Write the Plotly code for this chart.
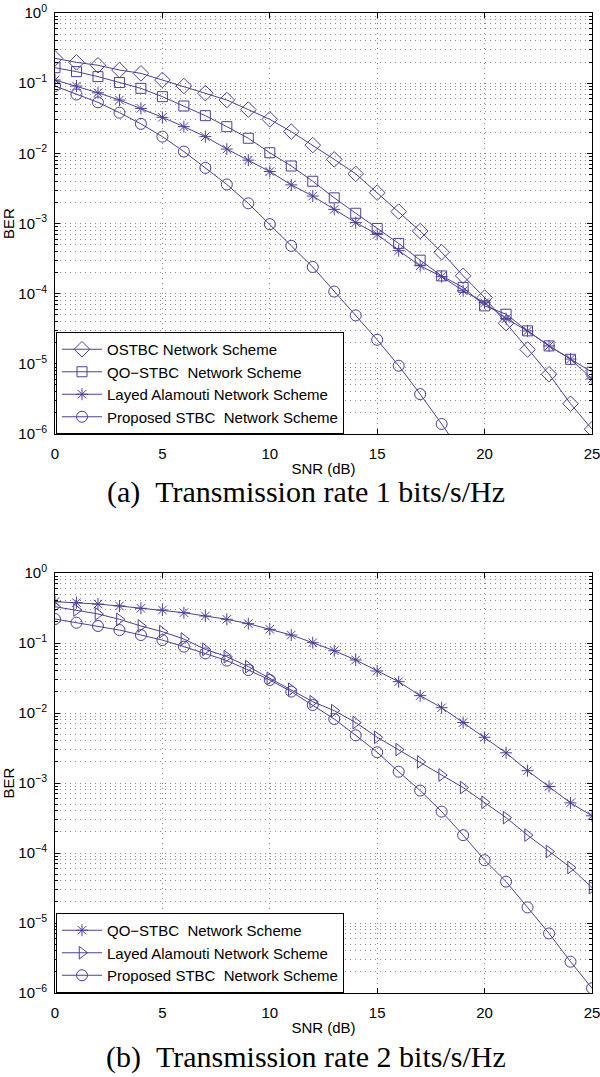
import plotly.graph_objects as go

# SNR axis (dB)
snr = list(range(26))

# (a) rate 1 bits/s/Hz
ostbc_r1 = [0.226, 0.198, 0.18, 0.154, 0.138, 0.111, 0.091, 0.072, 0.0575, 0.042,
            0.0305, 0.0204, 0.0131, 0.0082, 0.0051, 0.00275, 0.00148, 0.00078,
            0.00039, 0.00018, 8.8e-5, 3.8e-5, 1.6e-5, 7.1e-6, 2.7e-6, 1.17e-6]
qostbc_r1 = [0.166, 0.146, 0.124, 0.102, 0.0844, 0.0642, 0.0473, 0.0344, 0.024,
             0.0164, 0.0102, 0.0066, 0.0040, 0.00232, 0.0014, 0.00085, 0.00052,
             0.0003, 0.000179, 0.000123, 6.7e-5, 5.1e-5, 2.95e-5, 1.8e-5,
             1.16e-5, 7.6e-6]
layed_r1 = [0.111, 0.091, 0.073, 0.0575, 0.0437, 0.0326, 0.024, 0.0173, 0.0115,
            0.008, 0.0055, 0.00355, 0.00246, 0.00159, 0.00103, 0.0007, 0.00041,
            0.00025, 0.000175, 0.00011, 7.4e-5, 4.4e-5, 2.94e-5, 1.8e-5,
            1.17e-5, 6.1e-6]
proposed_r1 = [0.091, 0.069, 0.0533, 0.038, 0.0263, 0.0173, 0.0106, 0.0062,
               0.0036, 0.00194, 0.00098, 0.00048, 0.00024, 0.000107, 4.9e-5,
               2.2e-5, 9.4e-6, 3.7e-6, 1.39e-6, 5e-7]

# (b) rate 2 bits/s/Hz
qostbc_r2 = [0.39, 0.377, 0.36, 0.338, 0.313, 0.296, 0.271, 0.243, 0.218, 0.189,
             0.157, 0.13, 0.101, 0.0776, 0.0572, 0.0398, 0.028, 0.0177, 0.0119,
             0.0073, 0.0045, 0.0027, 0.0015, 0.00089, 0.00052, 0.00034]
layed_r2 = [0.33, 0.296, 0.26, 0.218, 0.175, 0.145, 0.114, 0.081, 0.0638, 0.046,
            0.0313, 0.0218, 0.0145, 0.0108, 0.0073, 0.0045, 0.003, 0.002, 0.0013,
            0.00086, 0.00053, 0.00032, 0.00018, 0.000105, 6.2e-5, 3.2e-5]
proposed_r2 = [0.22, 0.195, 0.175, 0.153, 0.13, 0.11, 0.0887, 0.071, 0.056,
               0.0411, 0.0296, 0.0202, 0.013, 0.0082, 0.0048, 0.00275, 0.00145,
               0.00078, 0.00039, 0.00018, 7.9e-5, 3.9e-5, 1.67e-5, 7.1e-6,
               2.8e-6, 1.17e-6]

x_ticks = [0, 5, 10, 15, 20, 25]
y_ticks = [1e-6, 1e-5, 1e-4, 1e-3, 1e-2, 1e-1, 1]
y_ticktext = ["10<sup>−6</sup>", "10<sup>−5</sup>", "10<sup>−4</sup>",
              "10<sup>−3</sup>", "10<sup>−2</sup>", "10<sup>−1</sup>",
              "10<sup>0</sup>"]
y_minor = [k * 10.0 ** e for e in range(-6, 0) for k in range(2, 10)]

COLOR = "#4b3f9e"
GRID = "#8c8c8c"
GRID_DASH = "1px,4px"
SANS = "Liberation Sans, Arial, sans-serif"
SERIF = "Liberation Serif, Times New Roman, serif"

fig = go.Figure()


def add_curve(x, y, name, symbol, size, xref, yref, legend):
    fig.add_trace(
        go.Scatter(
            x=x,
            y=y,
            name=name,
            mode="lines+markers",
            line=dict(color=COLOR, width=1),
            marker=dict(symbol=symbol, size=size, color=COLOR,
                        line=dict(color=COLOR, width=1)),
            xaxis=xref,
            yaxis=yref,
            legend=legend,
        )
    )


add_curve(snr, ostbc_r1, "OSTBC Network Scheme", "diamond-open", 12, "x", "y", "legend")
add_curve(snr, qostbc_r1, "QO−STBC  Network Scheme", "square-open", 10, "x", "y", "legend")
add_curve(snr, layed_r1, "Layed Alamouti Network Scheme", "asterisk-open", 10, "x", "y", "legend")
add_curve(snr[:len(proposed_r1)], proposed_r1, "Proposed STBC  Network Scheme",
          "circle-open", 11, "x", "y", "legend")

add_curve(snr, qostbc_r2, "QO−STBC  Network Scheme", "asterisk-open", 10, "x2", "y2", "legend2")
add_curve(snr, layed_r2, "Layed Alamouti Network Scheme", "triangle-right-open", 11,
          "x2", "y2", "legend2")
add_curve(snr, proposed_r2, "Proposed STBC  Network Scheme", "circle-open", 11,
          "x2", "y2", "legend2")

xaxis_style = dict(
    range=[0, 25],
    tickvals=x_ticks,
    ticks="inside",
    ticklen=5,
    tickcolor="black",
    showline=True,
    linecolor="black",
    linewidth=1,
    mirror="ticks",
    showgrid=True,
    gridcolor=GRID,
    griddash=GRID_DASH,
    gridwidth=1,
    zeroline=False,
    automargin=False,
    ticklabeloverflow="allow",
    tickfont=dict(family=SANS, size=15, color="black"),
    ticklabelstandoff=6,
    title=dict(text="SNR (dB)", font=dict(family=SANS, size=15, color="black"),
               standoff=2),
)
yaxis_style = dict(
    type="log",
    range=[-6, 0],
    tickvals=y_ticks,
    ticktext=y_ticktext,
    ticks="inside",
    ticklen=5,
    tickcolor="black",
    showline=True,
    linecolor="black",
    linewidth=1,
    mirror="ticks",
    showgrid=True,
    gridcolor=GRID,
    griddash=GRID_DASH,
    gridwidth=1,
    zeroline=False,
    automargin=False,
    ticklabeloverflow="allow",
    tickfont=dict(family=SANS, size=15, color="black"),
    ticklabelstandoff=4,
    minor=dict(tickmode="array", tickvals=y_minor, ticks="inside", ticklen=3,
               tickcolor="black", showgrid=True, gridcolor=GRID,
               griddash=GRID_DASH, gridwidth=1),
    title=dict(text="BER", font=dict(family=SANS, size=15, color="black"),
               standoff=2),
)

legend_style = dict(
    bgcolor="white",
    bordercolor="black",
    borderwidth=1,
    font=dict(family=SANS, size=15, color="black"),
    xanchor="left",
    yanchor="bottom",
    itemwidth=40,
    tracegroupgap=0,
)

fig.update_layout(
    width=600,
    height=1077,
    margin=dict(l=0, r=0, t=0, b=0, autoexpand=False),
    paper_bgcolor="white",
    plot_bgcolor="white",
    showlegend=True,
    xaxis=dict(domain=[55 / 600, 592 / 600], anchor="y", **xaxis_style),
    yaxis=dict(domain=[1 - 434 / 1077, 1 - 13 / 1077], anchor="x", **yaxis_style),
    xaxis2=dict(domain=[55 / 600, 592 / 600], anchor="y2", **xaxis_style),
    yaxis2=dict(domain=[1 - 993 / 1077, 1 - 573 / 1077], anchor="x2", **yaxis_style),
    legend=dict(x=56 / 600, y=1 - 434 / 1077, **legend_style),
    legend2=dict(x=56 / 600, y=1 - 993 / 1077, **legend_style),
)

fig.add_annotation(
    text="(a)\u00a0\u00a0Transmission rate 1 bits/s/Hz",
    xref="paper", yref="paper", x=306 / 600, y=1 - 492 / 1077,
    xanchor="center", yanchor="middle",
    showarrow=False, font=dict(family=SERIF, size=30, color="black"),
)
fig.add_annotation(
    text="(b)\u00a0\u00a0Transmission rate 2 bits/s/Hz",
    xref="paper", yref="paper", x=306 / 600, y=1 - 1057 / 1077,
    xanchor="center", yanchor="middle",
    showarrow=False, font=dict(family=SERIF, size=30, color="black"),
)

# the page body has a default 8px margin; drop it so the figure sits at 0,0
fig.write_html("out.html", config={"displayModeBar": False},
               post_script="document.body.style.margin='0';")
